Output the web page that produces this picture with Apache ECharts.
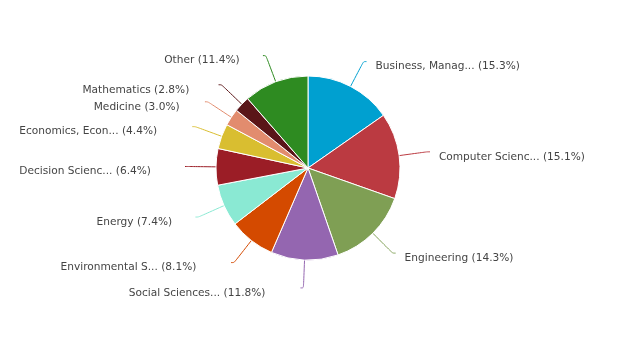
<!DOCTYPE html>
<html>
<head>
<meta charset="utf-8">
<script src="https://cdn.jsdelivr.net/npm/echarts@6/dist/echarts.min.js"></script>
<style>
html,body{margin:0;padding:0;background:#fff;}
#chart{width:624px;height:339px;}
</style>
</head>
<body>
<div id="chart"></div>
<script>
const categories = ["Business, Manag...", "Computer Scienc...", "Engineering", "Social Sciences...", "Environmental S...", "Energy", "Decision Scienc...", "Economics, Econ...", "Medicine", "Mathematics", "Other"];
const values = [15.3, 15.1, 14.3, 11.8, 8.1, 7.4, 6.4, 4.4, 3.0, 2.8, 11.4];
const colors = ["#00a0d0", "#bb3a41", "#7f9f54", "#9466b0", "#d44a00", "#8ae9d3", "#9b1d26", "#d9be30", "#e28c6e", "#5a1518", "#2e8b21"];

const chart = echarts.init(document.getElementById('chart'), null, {renderer: 'canvas'});
chart.setOption({
  animation: false,
  series: [{
    type: 'pie',
    center: [308, 168],
    radius: [0, 92],
    startAngle: 90,
    clockwise: true,
    avoidLabelOverlap: false,
    data: categories.map((c, i) => ({name: c, value: values[i], itemStyle: {color: colors[i]}})),
    itemStyle: {borderColor: '#fff', borderWidth: 1},
    label: {
      show: true,
      position: 'outside',
      formatter: p => p.name + ' (' + p.value.toFixed(1) + '%)',
      fontFamily: 'DejaVu Sans',
      fontSize: 10.6,
      color: '#444',
      distanceToLabelLine: 9
    },
    labelLine: {
      show: true,
      length: 28,
      length2: 3,
      smooth: true,
      minTurnAngle: 0,
      maxSurfaceAngle: 180,
      lineStyle: {width: 1}
    },
    labelLayout: function (p) {
      const pts = p.labelLinePoints;
      const left = pts && pts[2][0] < pts[1][0];
      return {dx: left ? -0.19 * p.labelRect.width : 0, dy: 5};
    },
    emphasis: {disabled: true}
  }]
});
</script>
</body>
</html>
